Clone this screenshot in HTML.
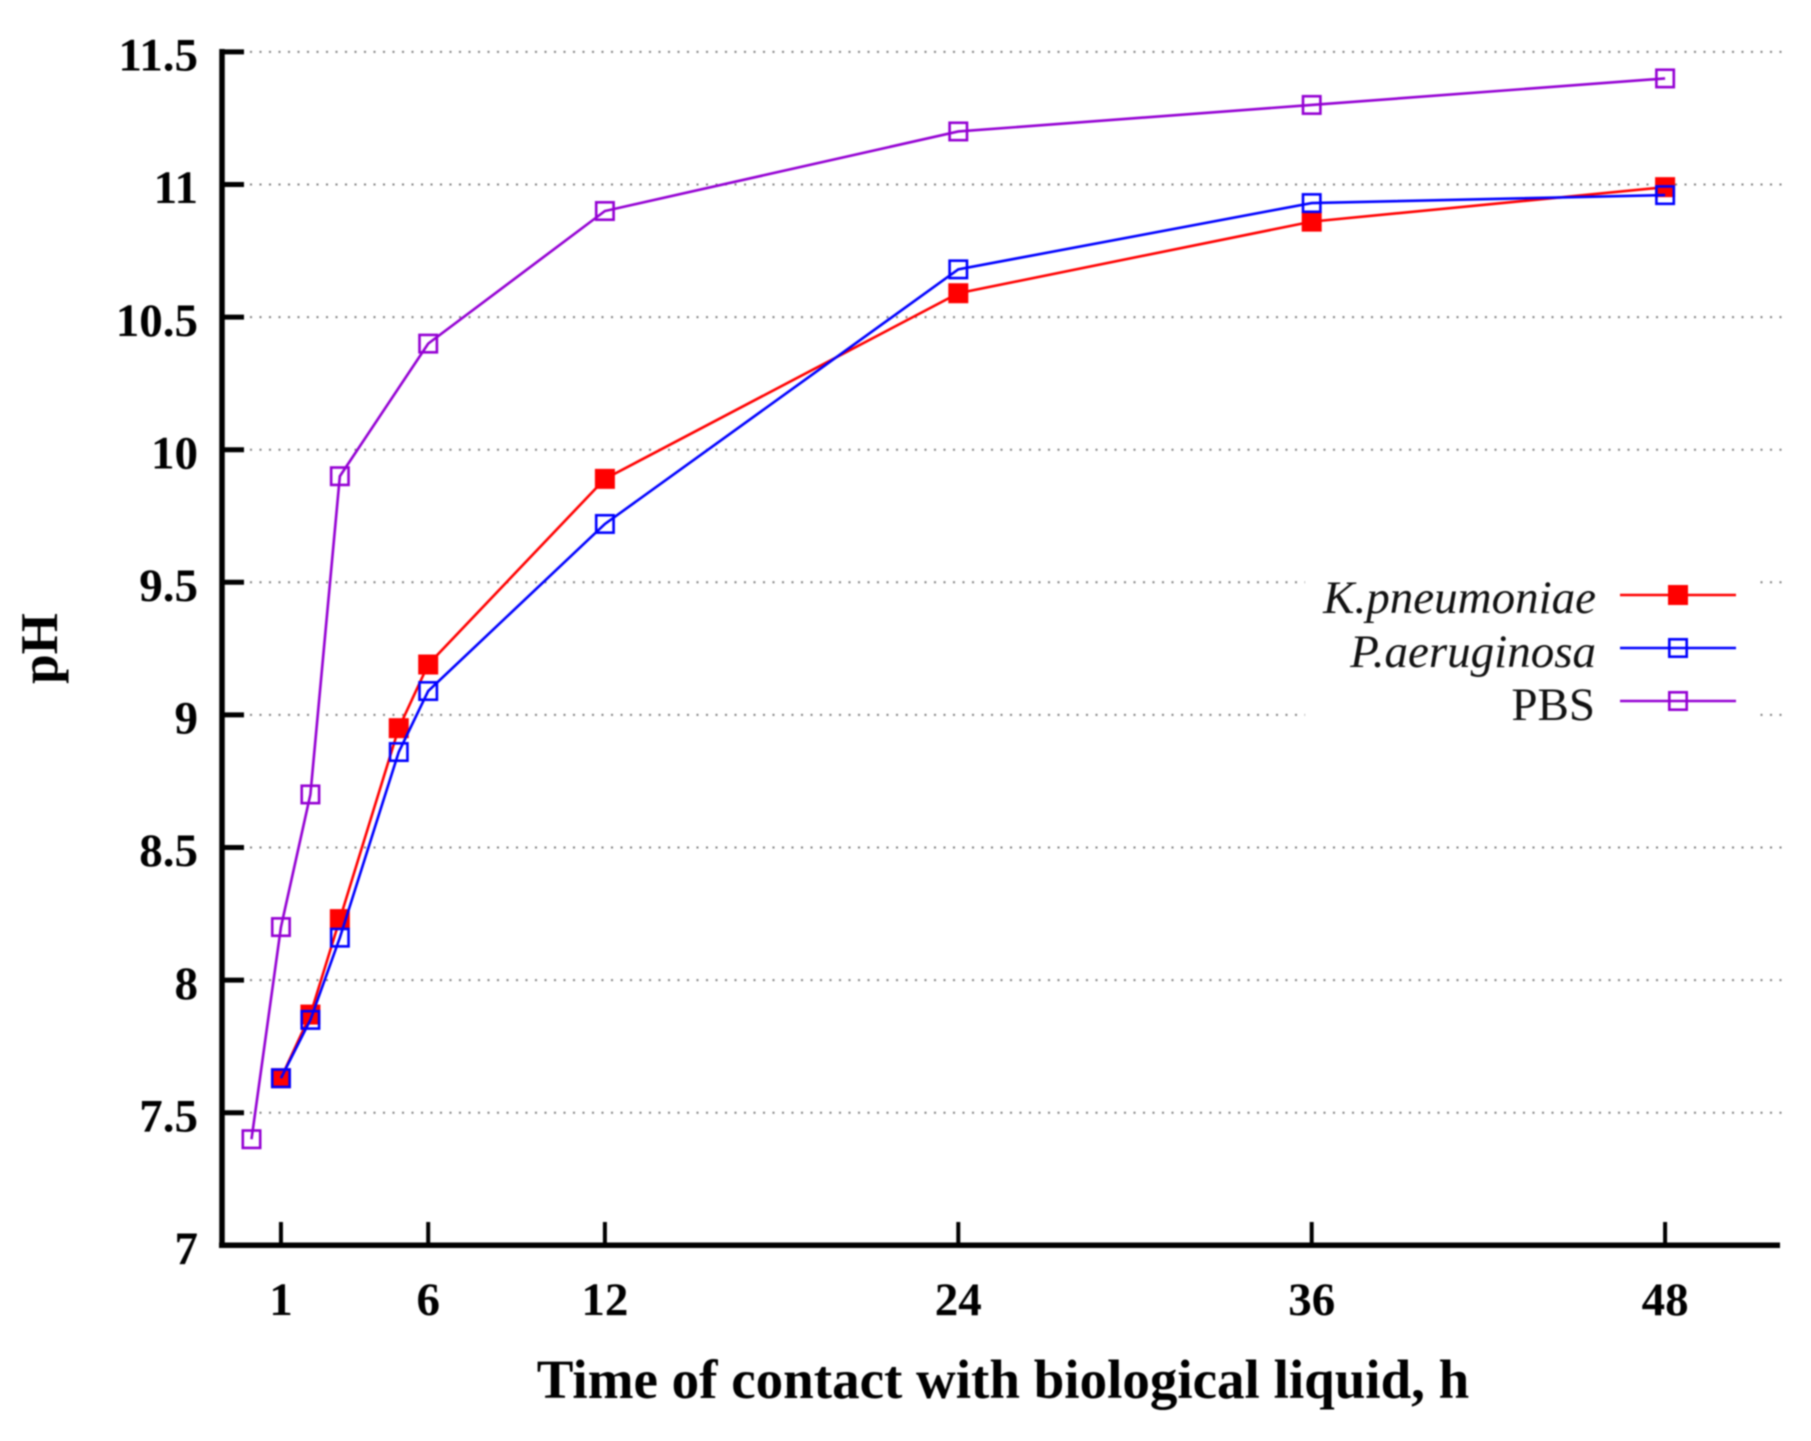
<!DOCTYPE html>
<html lang="en">
<head>
<meta charset="utf-8">
<title>pH over time of contact with biological liquid</title>
<style>
  html, body { margin: 0; padding: 0; background: #fff; }
  #chart { display: block; filter: blur(0.7px); }
  text { font-family: "Liberation Serif", "Times New Roman", serif; fill: #000; }
  .tick-label { font-size: 47px; font-weight: bold; }
  .axis-title { font-size: 55px; font-weight: bold; }
  .y-title { font-size: 53px; font-weight: bold; }
  .legend-label { font-size: 47px; fill: #111; }
</style>
</head>
<body>
<svg id="chart" width="1811" height="1441" viewBox="0 0 1811 1441" xmlns="http://www.w3.org/2000/svg">
  <rect x="0" y="0" width="1811" height="1441" fill="#fff"/>
  <g id="grid"></g>
  <rect x="1305" y="570" width="453" height="160" fill="#fff"/>
  <g id="series"></g>
  <g id="axes">
    <line x1="222" y1="49" x2="222" y2="1248" stroke="#000" stroke-width="5.5"/>
    <line x1="219" y1="1245.3" x2="1780" y2="1245.3" stroke="#000" stroke-width="5.5"/>
  </g>
  <g id="y-ticks"></g>
  <g id="x-ticks"></g>
  <text class="axis-title" x="1003" y="1398" text-anchor="middle">Time of contact with biological liquid, h</text>
  <text class="y-title" transform="translate(57 648.5) rotate(-90)" text-anchor="middle">pH</text>
  <g id="legend">
    <g>
      <text class="legend-label" x="1596" y="613" text-anchor="end" font-style="italic">K.pneumoniae</text>
      <line x1="1620" y1="595" x2="1736" y2="595" stroke="#ff0000" stroke-width="2.6"/>
      <rect x="1668" y="585" width="20" height="20" fill="#ff0000"/>
    </g>
    <g>
      <text class="legend-label" x="1596" y="667" text-anchor="end" font-style="italic">P.aeruginosa</text>
      <line x1="1620" y1="648" x2="1736" y2="648" stroke="#0000ff" stroke-width="2.6"/>
      <rect x="1669.3" y="639.3" width="17.4" height="17.4" fill="none" stroke="#0000ff" stroke-width="2.6"/>
    </g>
    <g>
      <text class="legend-label" x="1595" y="720" text-anchor="end">PBS</text>
      <line x1="1620" y1="701" x2="1736" y2="701" stroke="#9400d3" stroke-width="2.6"/>
      <rect x="1669.3" y="692.3" width="17.4" height="17.4" fill="none" stroke="#9400d3" stroke-width="2.6"/>
    </g>
  </g>
</svg>
<script>
const yTickValues = [7, 7.5, 8, 8.5, 9, 9.5, 10, 10.5, 11, 11.5];
const xTickValues = [1, 6, 12, 24, 36, 48];
const hoursK = [1, 2, 3, 5, 6, 12, 24, 36, 48];
const valuesK = [7.63, 7.87, 8.23, 8.95, 9.19, 9.89, 10.59, 10.86, 10.99];
const hoursP = [1, 2, 3, 5, 6, 12, 24, 36, 48];
const valuesP = [7.63, 7.85, 8.16, 8.86, 9.09, 9.72, 10.68, 10.93, 10.96];
const hoursPBS = [0, 1, 2, 3, 6, 12, 24, 36, 48];
const valuesPBS = [7.4, 8.2, 8.7, 9.9, 10.4, 10.9, 11.2, 11.3, 11.4];

const NS = 'http://www.w3.org/2000/svg';
function xScale(h) { return 251.5 + h * 29.45; }
function yScale(v) { return 1245.3 - (v - 7) * 265.2; }
function make(tag, attrs, parent) {
  const el = document.createElementNS(NS, tag);
  for (const k in attrs) el.setAttribute(k, attrs[k]);
  parent.appendChild(el);
  return el;
}

const gridGroup = document.getElementById('grid');
const yTickGroup = document.getElementById('y-ticks');
const xTickGroup = document.getElementById('x-ticks');
const seriesGroup = document.getElementById('series');

yTickValues.forEach(function (v) {
  const y = yScale(v);
  if (v > 7) {
    const g = make('line', { x1: 250, y1: y, x2: 1784, y2: y, stroke: '#808080', 'stroke-width': 2, 'stroke-dasharray': '2 7.5' }, gridGroup);
    
    
  }
  const t = make('line', { x1: 222, y1: y, x2: 244, y2: y, stroke: '#000', 'stroke-width': 5 }, yTickGroup);
  
  
  const l = make('text', { x: 198, y: y + 18.7, 'text-anchor': 'end', class: 'tick-label' }, yTickGroup);
  
  
  l.textContent = String(v);
});

xTickValues.forEach(function (h) {
  const x = xScale(h);
  const t = make('line', { x1: x, y1: 1245.3, x2: x, y2: 1222, stroke: '#000', 'stroke-width': 4 }, xTickGroup);
  
  
  const l = make('text', { x: x, y: 1315, 'text-anchor': 'middle', class: 'tick-label' }, xTickGroup);
  
  
  l.textContent = String(h);
});

function drawSeries(name, hours, values, color, filled) {
  const g = make('g', {}, seriesGroup);
  
  
  const pts = hours.map(function (h, i) { return xScale(h) + ',' + yScale(values[i]); }).join(' ');
  const line = make('polyline', { points: pts, fill: 'none', stroke: color, 'stroke-width': 2.6 }, g);
  
  
  hours.forEach(function (h, i) {
    const x = xScale(h), y = yScale(values[i]);
    const attrs = filled
      ? { x: x - 10, y: y - 10, width: 20, height: 20, fill: color }
      : { x: x - 8.7, y: y - 8.7, width: 17.4, height: 17.4, fill: 'none', stroke: color, 'stroke-width': 2.6 };
    const m = make('rect', attrs, g);
    
    
  });
}

drawSeries('k-pneumoniae', hoursK, valuesK, '#ff0000', true);
drawSeries('p-aeruginosa', hoursP, valuesP, '#0000ff', false);
drawSeries('pbs', hoursPBS, valuesPBS, '#9400d3', false);
</script>
</body>
</html>
